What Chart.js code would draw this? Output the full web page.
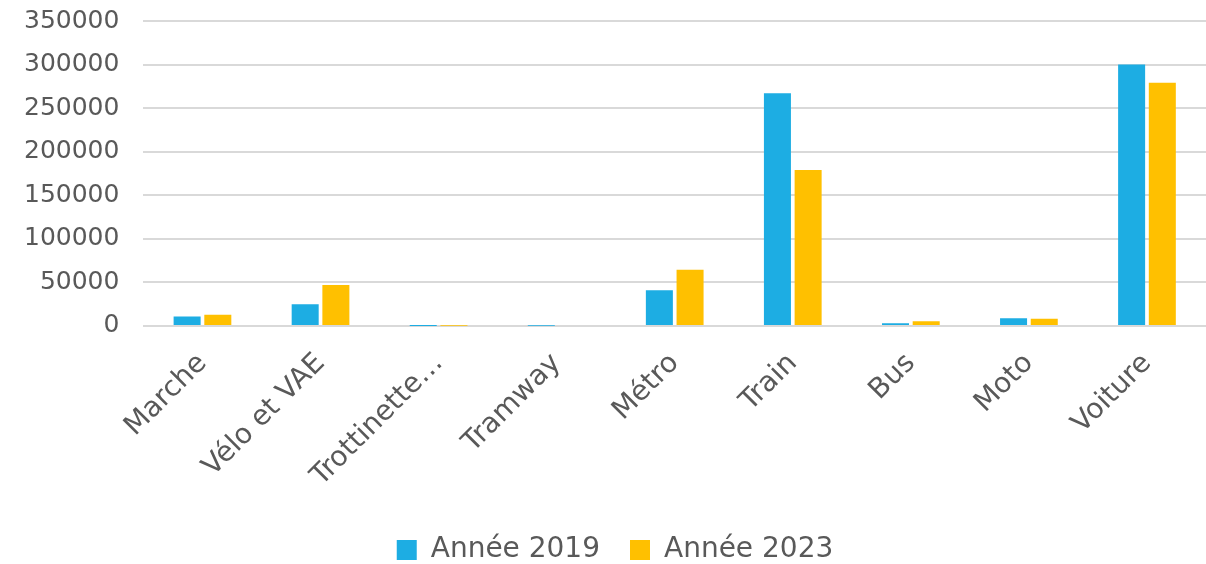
<!DOCTYPE html>
<html>
<head>
<meta charset="utf-8">
<script src="https://cdn.jsdelivr.net/npm/chart.js@4/dist/chart.umd.min.js"></script>
<style>
  html, body { margin: 0; padding: 0; background: #fff; }
  #wrap { width: 1206px; height: 564px; }
</style>
</head>
<body>
<div id="wrap"><canvas id="myChart"></canvas></div>
<script>
const modes = ['Marche', 'Vélo et VAE', 'Trottinette…', 'Tramway', 'Métro', 'Train', 'Bus', 'Moto', 'Voiture'];
const annee2019 = [11000, 25000, 100, 300, 41000, 267000, 3000, 9000, 300000];
const annee2023 = [13000, 47000, 200, 1000, 64500, 179000, 5500, 8200, 279000];
const yTicks = [0, 50000, 100000, 150000, 200000, 250000, 300000, 350000];

const textColor = '#595959';
const fontFamily = '"DejaVu Sans", sans-serif';

const ctx = document.getElementById('myChart');
new Chart(ctx, {
    type: 'bar',
    data: {
        labels: modes,
        datasets: [{
            label: 'Année 2019',
            data: annee2019,
            backgroundColor: '#1DADE3',
            borderWidth: 0
        }, {
            label: 'Année 2023',
            data: annee2023,
            backgroundColor: '#FFC000',
            borderWidth: 0
        }]
    },
    options: {
        responsive: true,
        maintainAspectRatio: false,
        animation: false,
        layout: { padding: { top: 21, right: 0, left: 24, bottom: -10 } },
        datasets: {
            bar: { categoryPercentage: 0.52, barPercentage: 0.88 }
        },
        plugins: {
            legend: {
                position: 'bottom',
                labels: {
                    color: textColor,
                    font: { family: fontFamily, size: 28 },
                    boxWidth: 20,
                    boxHeight: 20,
                    padding: 30
                }
            },
            tooltip: { enabled: false }
        },
        scales: {
            x: {
                grid: { display: false },
                border: { display: false },
                ticks: {
                    color: textColor,
                    font: { family: fontFamily, size: 28 },
                    maxRotation: 45,
                    minRotation: 45,
                    autoSkip: false,
                    padding: 13
                }
            },
            y: {
                min: 0,
                max: 350000,
                afterBuildTicks: axis => { axis.ticks = yTicks.map(v => ({ value: v })); },
                // invisible tick marks give the gap between labels and grid
                grid: { color: '#d9d9d9', lineWidth: 2, drawTicks: true, tickLength: 24, tickColor: 'rgba(0,0,0,0)' },
                border: { display: false },
                ticks: {
                    color: textColor,
                    font: { family: fontFamily, size: 25 },
                    padding: 0,
                    callback: v => String(v)
                }
            }
        }
    }
});
</script>
</body>
</html>
